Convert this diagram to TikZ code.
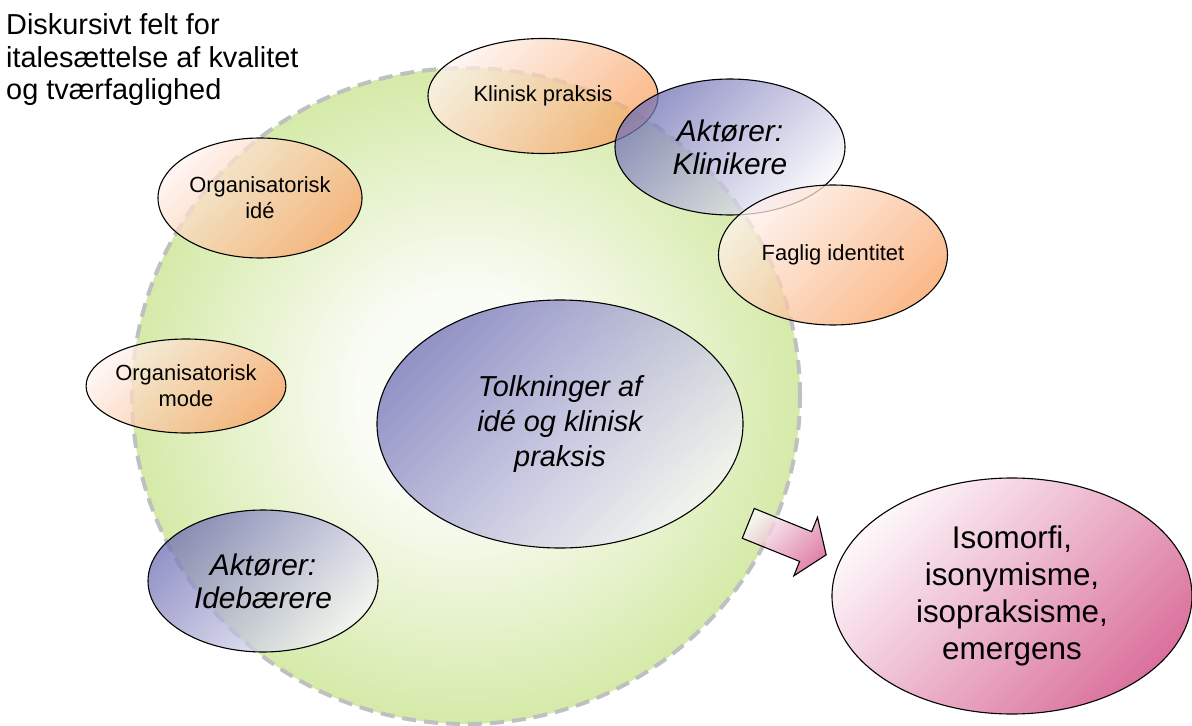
\documentclass[tikz,border=0pt]{standalone}
\usepackage{fontspec}
\setmainfont{Liberation Sans}
\usetikzlibrary{shapes.geometric,shapes.arrows}

\definecolor{feltgroen}{RGB}{196,226,132}
\definecolor{feltlys}{RGB}{250,252,246}
\definecolor{kantgraa}{RGB}{192,192,192}
\definecolor{orangelys}{RGB}{255,242,238}
\definecolor{orangemoerk}{RGB}{248,162,98}
\definecolor{blaamoerk}{RGB}{112,112,182}
\definecolor{blaalys}{RGB}{246,246,250}
\definecolor{pinklys}{RGB}{253,246,249}
\definecolor{pinkmoerk}{RGB}{214,98,146}

\pgfdeclareradialshading{feltshade}{\pgfpoint{0bp}{0bp}}{color(0bp)=(feltlys); color(8bp)=(feltlys); color(33bp)=(feltgroen); color(50bp)=(feltgroen)}

\tikzset{
  ell/.style={ellipse, draw=black, line width=1.1bp, inner sep=0pt, align=center, fill opacity=0.75, text opacity=1},
  orangeell/.style={ell, top color=orangelys, bottom color=orangemoerk, shading angle=45, font=\fontsize{22}{26}\selectfont},
  blaaell/.style={ell, top color=blaamoerk, bottom color=blaalys, shading angle=45, font=\fontsize{30}{33}\selectfont\itshape},
  pinkell/.style={ell, top color=pinklys, bottom color=pinkmoerk, shading angle=45, fill opacity=0.9, font=\fontsize{31.5}{37}\selectfont},
}

\begin{document}
\begin{tikzpicture}[x=1bp,y=-1bp]
  \useasboundingbox (0,0) rectangle (1192,726);
  % feltet
  \node (felt) [ellipse, shading=feltshade, draw=kantgraa, line width=4bp, dash pattern=on 14bp off 8bp, minimum width=668bp, minimum height=656bp, inner sep=0pt] at (466,396) {};
  \node (titel) [anchor=north west, align=left, inner sep=0pt, font=\fontsize{29}{33}\selectfont] at (6,13) {Diskursivt felt for\\italesættelse af kvalitet\\og tværfaglighed};

  \node (praksis) [orangeell, minimum width=230bp, minimum height=115bp] at (543,96) {Klinisk praksis};
  \node (klinikere) [blaaell, minimum width=230bp, minimum height=136bp] at (730,147) {Aktører:\\Klinikere};
  \node (faglig) [orangeell, minimum width=229bp, minimum height=140bp] at (833,255) {Faglig identitet};
  \node (orgide) [orangeell, minimum width=204bp, minimum height=120bp] at (260,198) {Organisatorisk\\idé};
  \node (orgmode) [orangeell, minimum width=178bp, minimum height=94bp] at (186,386) {Organisatorisk\\mode};
  \node (idebaerere) [blaaell, minimum width=230bp, minimum height=142bp] at (263,581) {Aktører:\\Idebærere};
  \node (tolk) [blaaell, minimum width=366bp, minimum height=248bp, font=\fontsize{29}{35}\selectfont\itshape] at (560,424) {Tolkninger af\\idé og klinisk\\praksis};

  \node (pil) [single arrow, draw=black, line width=1.1bp, top color=pinklys, bottom color=pinkmoerk, shading angle=45, fill opacity=0.8, minimum height=84bp, inner xsep=0pt, inner ysep=15.5bp, single arrow head extend=15.5bp, single arrow tip angle=110, rotate=-22] at (782,537) {};

  \node (iso) [pinkell, minimum width=360bp, minimum height=236bp] at (1012,596) {Isomorfi,\\isonymisme,\\isopraksisme,\\emergens};
\end{tikzpicture}
\end{document}
